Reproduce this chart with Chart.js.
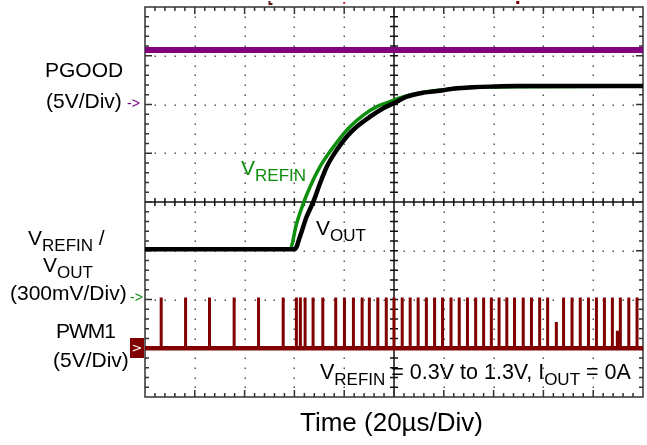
<!DOCTYPE html>
<html>
<head>
<meta charset="utf-8">
<script src="https://cdn.jsdelivr.net/npm/chart.js@4.4.0/dist/chart.umd.min.js"></script>
<style>
  html, body { margin: 0; padding: 0; background: #fff; }
  #wrap { position: relative; width: 647px; height: 445px; overflow: hidden; }
  #scope { position: absolute; left: 0; top: 0; }
  .lbl { position: absolute; font-family: "Liberation Sans", Arial, sans-serif; font-size: 21px; line-height: 1; white-space: nowrap; color: #000; }
  .lbl sub { font-size: 17px; vertical-align: baseline; position: relative; top: 6px; }
  .mk { position: absolute; font-family: "Liberation Sans", Arial, sans-serif; font-size: 14px; line-height: 1; }
  #pwmBox { position: absolute; left: 130px; top: 338px; width: 14px; height: 20px; background: #800000; color: #fff; font-family: "DejaVu Sans", sans-serif; font-size: 13px; line-height: 20px; text-align: center; }
</style>
</head>
<body>
<div id="wrap">
  <canvas id="scope" width="647" height="445"></canvas>

  <div class="lbl" style="left:45px; top:59px;">PGOOD</div>
  <div class="lbl" style="left:46px; top:90px;">(5V/Div)</div>
  <div class="mk" style="left:127px; top:96px; color:#800080;">-&gt;</div>

  <div class="lbl" style="left:28px; top:227px;">V<sub>REFIN</sub> /</div>
  <div class="lbl" style="left:43px; top:254px;">V<sub>OUT</sub></div>
  <div class="lbl" style="left:10px; top:282px;">(300mV/Div)</div>
  <div class="mk" style="left:130px; top:290px; color:#0d8f0d;">-&gt;</div>

  <div class="lbl" style="left:56px; top:320px; letter-spacing:-1px;">PWM1</div>
  <div class="lbl" style="left:53px; top:349px;">(5V/Div)</div>
  <div id="pwmBox">&gt;</div>

  <div class="lbl" style="left:241px; top:157px; color:#0d8f0d;">V<sub>REFIN</sub></div>
  <div class="lbl" style="left:316px; top:217px;">V<sub>OUT</sub></div>
  <div class="lbl" style="left:320px; top:362px; font-size:21.5px;">V<sub>REFIN</sub> = 0.3V to 1.3V, I<sub>OUT</sub> = 0A</div>
  <div class="lbl" style="left:300px; top:409px; font-size:26px;">Time (20µs/Div)</div>
</div>

<script>
// Scope capture: PGOOD, VREFIN / VOUT, PWM1 during a 0.3V -> 1.3V reference step

// time base: 10 divisions x 20us
const timeSpan = [0, 200];
const divsY = 8;

// channel setup (volts per div, ground marker position in divs from bottom)
const pgoodScale = 5, pgoodGround = 6;
const voutScale = 0.3, voutGround = 2;
const pwmScale = 5, pwmGround = 1;

// PGOOD stays high over the whole capture
const pgoodTime = [0, 200];
const pgoodVolts = [5.59, 5.59];

// VREFIN (green), time in us, value in V
const refinTime = [0, 58.2, 60.9, 63.6, 66.3, 70.3, 74.3, 78.3, 82.3, 87.7, 93.1, 98.4, 101.7, 110.4, 122.5, 135, 200];
const refinVolts = [0.31, 0.31, 0.469, 0.592, 0.694, 0.817, 0.910, 0.992, 1.063, 1.135, 1.187, 1.217, 1.238, 1.271, 1.295, 1.308, 1.312];

// VOUT (black)
const voutTime = [0, 60.2, 62.2, 64.9, 67.6, 70.3, 73.0, 77.0, 81.0, 85.0, 90.4, 95.7, 101.1, 105.1, 111.8, 118.5, 125.2, 131.8, 138.6, 149.3, 200];
const voutVolts = [0.31, 0.31, 0.386, 0.509, 0.602, 0.715, 0.817, 0.920, 1.002, 1.063, 1.125, 1.177, 1.217, 1.248, 1.273, 1.285, 1.300, 1.306, 1.310, 1.314, 1.314];

// PWM1 pulse edges (us) and pulse heights (V)
const pwmTimes = [6.3, 16.1, 25.7, 35.6, 45.4, 55.3, 60.6, 62.2, 64.1, 67.3, 71.2, 76.4, 79.9, 83.5, 87.0, 89.9,
  93.3, 96.7, 99.8, 103.1, 106.3, 109.5, 112.8, 116.1, 119.3, 122.7, 126.0, 129.3, 132.6, 135.8, 138.9, 142.0,
  145.1, 148.2, 151.7, 155.0, 158.3, 161.5, 165.0, 167.9, 171.3, 174.6, 177.9, 181.1, 184.3, 187.5, 189.5, 190.7,
  194.1, 197.4];
const pwmHeights = [5.1, 5.1, 5.1, 5.1, 5.1, 5.1, 5.1, 5.1, 5.1, 5.1, 5.1, 5.1, 5.1, 5.1, 5.1, 5.1,
  5.1, 5.1, 5.1, 5.1, 5.1, 5.1, 5.1, 5.1, 5.1, 5.1, 5.1, 5.1, 5.1, 5.1, 5.1, 5.1,
  5.1, 5.1, 5.1, 5.1, 5.1, 5.1, 2.6, 5.1, 5.1, 5.1, 5.1, 5.1, 5.1, 5.1, 1.7, 5.1,
  5.1, 5.1];
const pwmLow = 0;

// volts -> screen divisions
function toDiv(times, volts, scale, ground) {
  return times.map((t, i) => ({ x: t, y: ground + volts[i] / scale }));
}

function pwmPoints() {
  const lo = pwmGround + pwmLow / pwmScale;
  const pts = [{ x: timeSpan[0], y: lo }];
  pwmTimes.forEach((t, i) => {
    const hi = pwmGround + pwmHeights[i] / pwmScale;
    pts.push({ x: t, y: lo }, { x: t, y: hi }, { x: t + 0.4, y: hi }, { x: t + 0.4, y: lo });
  });
  pts.push({ x: timeSpan[1], y: lo });
  return pts;
}

// oscilloscope graticule: dotted grid, solid centre cross, ticked frame
const graticule = {
  id: 'graticule',
  beforeDatasetsDraw(chart) {
    const { ctx, chartArea: a, scales } = chart;
    const xs = scales.x, ys = scales.y;
    const dx = (a.right - a.left) / 10, dy = (a.bottom - a.top) / divsY;
    ctx.save();

    // dots on every grid line, one per minor division
    ctx.fillStyle = '#555';
    for (let i = 1; i < 10; i++) {
      if (i === 5) continue;
      const x = Math.round(a.left + i * dx);
      for (let j = 1; j < divsY * 5; j++) {
        ctx.fillRect(x - 0.5, Math.round(a.top + j * dy / 5) - 0.5, 1.5, 1.5);
      }
    }
    for (let k = 1; k < divsY; k++) {
      if (k === 4) continue;
      const y = Math.round(a.top + k * dy);
      for (let j = 1; j < 50; j++) {
        ctx.fillRect(Math.round(a.left + j * dx / 5) - 0.5, y - 0.5, 1.5, 1.5);
      }
    }

    // centre cross
    const cx = xs.getPixelForValue(100), cy = ys.getPixelForValue(4);
    ctx.strokeStyle = '#111';
    ctx.lineWidth = 1.5;
    ctx.beginPath();
    ctx.moveTo(cx, a.top); ctx.lineTo(cx, a.bottom);
    ctx.moveTo(a.left, cy); ctx.lineTo(a.right, cy);
    for (let j = 1; j < 50; j++) {
      const x = a.left + j * dx / 5;
      ctx.moveTo(x, cy - 4); ctx.lineTo(x, cy + 4);
    }
    for (let j = 1; j < divsY * 5; j++) {
      const y = a.top + j * dy / 5;
      ctx.moveTo(cx - 4, y); ctx.lineTo(cx + 4, y);
    }
    ctx.stroke();

    // frame with inward ticks
    ctx.strokeStyle = '#333';
    ctx.lineWidth = 1.5;
    ctx.strokeRect(a.left, a.top, a.right - a.left, a.bottom - a.top);
    ctx.beginPath();
    for (let j = 1; j < 50; j++) {
      const x = a.left + j * dx / 5;
      const len = j % 5 === 0 ? 7 : 4;
      ctx.moveTo(x, a.top); ctx.lineTo(x, a.top + len);
      ctx.moveTo(x, a.bottom); ctx.lineTo(x, a.bottom - len);
    }
    for (let j = 1; j < divsY * 5; j++) {
      const y = a.top + j * dy / 5;
      const len = j % 5 === 0 ? 7 : 4;
      ctx.moveTo(a.left, y); ctx.lineTo(a.left + len, y);
      ctx.moveTo(a.right, y); ctx.lineTo(a.right - len, y);
    }
    ctx.stroke();

    // small trigger / cursor marks above the frame
    ctx.fillStyle = '#5a1a1a';
    ctx.fillRect(xs.getPixelForValue(50) - 1, 1, 2, 4);
    ctx.fillRect(xs.getPixelForValue(50), 3, 3, 2);
    ctx.fillStyle = '#c03030';
    ctx.fillRect(xs.getPixelForValue(80) - 1, 2, 2, 2);
    ctx.fillStyle = '#800000';
    ctx.fillRect(xs.getPixelForValue(149.5) - 1, 1, 3, 3);
    ctx.restore();
  }
};

document.addEventListener('DOMContentLoaded', function() {
  const canvas = document.getElementById('scope');

  new Chart(canvas.getContext('2d'), {
    type: 'line',
    data: {
      datasets: [
        {
          label: 'VOUT',
          data: toDiv(voutTime, voutVolts, voutScale, voutGround),
          borderColor: '#000000',
          borderWidth: 4.5,
          cubicInterpolationMode: 'monotone',
          order: 0
        },
        {
          label: 'VREFIN',
          data: toDiv(refinTime, refinVolts, voutScale, voutGround),
          borderColor: '#0d8f0d',
          borderWidth: 3.5,
          cubicInterpolationMode: 'monotone',
          order: 1
        },
        {
          label: 'PGOOD',
          data: toDiv(pgoodTime, pgoodVolts, pgoodScale, pgoodGround),
          borderColor: '#800080',
          borderWidth: 6,
          order: 2
        },
        {
          label: 'PWM1 base',
          data: toDiv(timeSpan, [pwmLow, pwmLow], pwmScale, pwmGround),
          borderColor: '#800000',
          borderWidth: 4.5,
          order: 3
        },
        {
          label: 'PWM1',
          data: pwmPoints(),
          borderColor: '#800000',
          borderWidth: 2,
          tension: 0,
          order: 4
        }
      ]
    },
    options: {
      responsive: false,
      animation: false,
      events: [],
      elements: { point: { radius: 0 }, line: { fill: false } },
      layout: { padding: { left: 145, right: 4, top: 7, bottom: 48 } },
      plugins: { legend: { display: false }, tooltip: { enabled: false } },
      scales: {
        x: { type: 'linear', min: timeSpan[0], max: timeSpan[1], display: false },
        y: { type: 'linear', min: 0, max: divsY, display: false }
      }
    },
    plugins: [graticule]
  });
});
</script>
</body>
</html>
